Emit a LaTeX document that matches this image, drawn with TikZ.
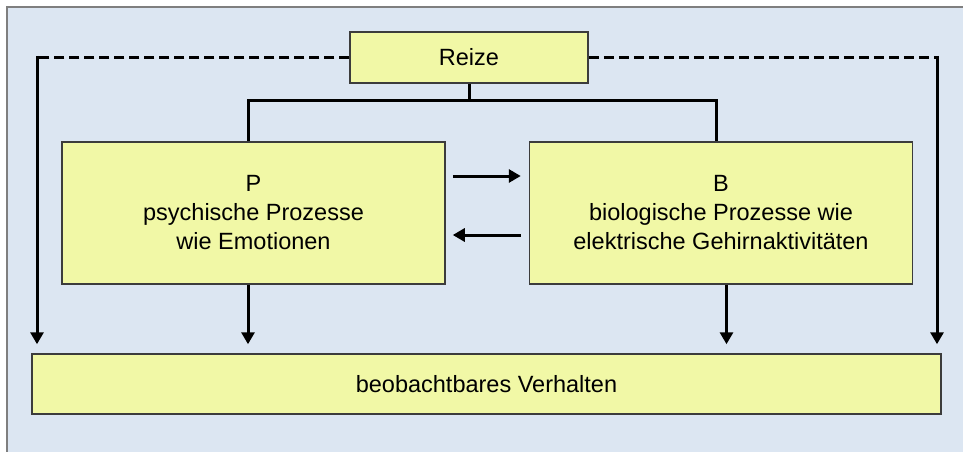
\documentclass[tikz,border=0pt]{standalone}
\usepackage{fontspec}
\setmainfont{Liberation Sans}
\usepackage{tikz}
\usetikzlibrary{arrows.meta, positioning, calc}
\definecolor{backdrop}{HTML}{DCE6F2}
\definecolor{boxfill}{HTML}{F1F8A6}
\definecolor{boxline}{HTML}{3C3C3C}
\definecolor{frameline}{HTML}{7F7F7F}

\begin{document}
\begin{tikzpicture}[
  x=1pt, y=-1pt,
  box/.style={draw=boxline, line width=1.5pt, fill=boxfill, inner sep=0pt, align=center, font=\fontsize{23.5}{29}\selectfont},
  proc/.style={box, minimum width=383pt, minimum height=142pt},
  link/.style={line width=3pt},
  dashlink/.style={line width=3pt, dash pattern=on 10pt off 5pt},
  arrow/.style={-{Triangle[length=12pt, width=13pt]}, line width=3pt}
]
\useasboundingbox (0,0) rectangle (963,452);
\fill[backdrop] (7,7) rectangle (963,452);
\draw[frameline, line width=2pt] (7,452) -- (7,7) -- (963,7);
\node[box, minimum width=238pt, minimum height=51pt] (reize) at (469,57.5) {Reize};
\node[proc] (psy) at (253.5,213) {P\\psychische Prozesse\\wie Emotionen};
\node[proc, right=83pt of psy] (bio) {B\\biologische Prozesse wie\\elektrische Gehirnaktivitäten};
\node[box, minimum width=909pt, minimum height=60pt] (verh) at (486.5,384) {beobachtbares Verhalten};
\coordinate (lrail) at (37,57.5);
\coordinate (rrail) at (937,57.5);
\coordinate (bus) at (469,100);
\draw[dashlink] (reize.west) -- (lrail);
\draw[dashlink] (reize.east) -- (rrail);
\draw[arrow, shorten >=9pt] ([yshift=1.5pt]lrail) -- (lrail |- verh.north);
\draw[arrow, shorten >=9pt] ([yshift=1.5pt]rrail) -- (rrail |- verh.north);
\draw[link] (reize.south) -- (bus);
\draw[link] ([xshift=-5.5pt]psy.north) |- (bus) -| ([xshift=-4.5pt]bio.north);
\draw[arrow, shorten <=7pt, shorten >=8pt] ([yshift=37pt]psy.east) -- ([yshift=37pt]bio.west);
\draw[arrow, shorten <=8pt, shorten >=7pt] ([yshift=-22pt]bio.west) -- ([yshift=-22pt]psy.east);
\draw[arrow, shorten >=9pt] ([xshift=-5.5pt]psy.south) -- ([xshift=-5.5pt]psy.south |- verh.north);
\draw[arrow, shorten >=9pt] ([xshift=5.5pt]bio.south) -- ([xshift=5.5pt]bio.south |- verh.north);
\end{tikzpicture}
\end{document}
